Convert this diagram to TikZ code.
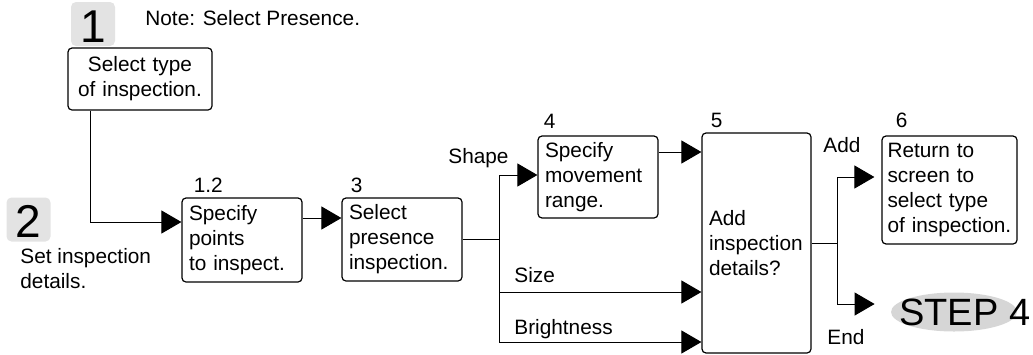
\documentclass[tikz,border=0pt]{standalone}
\usepackage{fontspec}
\setmainfont{Liberation Sans}
\usepackage{tikz}
\usetikzlibrary{shapes.geometric,arrows.meta,positioning,calc}
\newcommand{\bodyfont}{\fontsize{10.4}{12.5}\selectfont\hyphenpenalty=10000\exhyphenpenalty=10000}

\begin{document}
\begin{tikzpicture}[x=0.5pt,y=-0.5pt,
  box/.style={draw,line width=0.6pt,rounded corners=2pt,align=left,inner xsep=3.5pt,inner ysep=0pt,font=\bodyfont},
  lbl/.style={anchor=base west,inner sep=0pt,font=\bodyfont},
  numsq/.style={fill=gray!22,rounded corners=2.5pt,inner sep=0pt,minimum width=22pt,minimum height=22pt,text height=18pt,text depth=0pt,font=\fontsize{23}{23}\selectfont},
  arr/.style={-{Triangle[length=10pt,width=11.5pt]},line width=0.5pt},
  conn/.style={line width=0.5pt}]
\useasboundingbox (0,0) rectangle (1033,354);

% steps
\node[numsq] (sq1) at (93,24) {1};
\node[numsq] (sq2) at (28.5,219.5) {2};
\node[lbl] (note) at (145,25) {Note: Select Presence.};
\node[anchor=north west,inner sep=0pt,align=left,font=\bodyfont] (setd) at (20,248) {Set inspection\\details.};

% boxes
\node[box,align=center,text width=65pt,minimum height=31pt] (sel) at (140,79) {Select type\\of inspection.};
\node[box,text width=53pt,minimum height=42pt] (pts) at (242,240) {Specify\\points\\to inspect.};
\node[box,text width=53pt,minimum height=41.5pt] (pres) at (402,239.5) {Select\\presence\\inspection.};
\node[box,text width=53pt,minimum height=41pt] (mov) at (598,177) {Specify\\movement\\range.};
\node[box,text width=47.5pt,minimum height=110pt] (add) at (756.5,243) {Add\\inspection\\details?};
\node[box,inner xsep=2.75pt,text width=62pt,minimum height=54pt] (ret) at (949.5,190) {Return to\\screen to\\select type\\of inspection.};
\node[ellipse,fill=gray!32,minimum width=63pt,minimum height=19.5pt] (stepn) at (954,312) {};
\node[anchor=base west,inner sep=0pt,font=\fontsize{19}{19}\selectfont] (stxt) at (899,325) {STEP 4};

% numbers
\node[lbl] (n12) at ([shift={(6pt,2.5pt)}]pts.north west) {1.2};
\node[lbl] (n3) at ([shift={(4.5pt,2.5pt)}]pres.north west) {3};
\node[lbl] (n4) at ([shift={(3pt,3.5pt)}]mov.north west) {4};
\node[lbl] (n5) at ([shift={(4.5pt,2.5pt)}]add.north west) {5};
\node[lbl] (n6) at ([shift={(7pt,4pt)}]ret.north west) {6};

% branch labels
\node[lbl] (shp) at (448,163) {Shape};
\node[lbl] (siz) at (514,282) {Size};
\node[lbl] (brt) at (514,334) {Brightness};
\node[lbl] (addl) at (823,152) {Add};
\node[lbl] (endl) at (827,344) {End};

% connectors
\coordinate (br1) at ([xshift=18.5pt]pres.east);
\coordinate (br2) at ([xshift=13pt]add.east);
\draw[arr] ([xshift=11.5pt]sel.south west) |- ([yshift=9pt]pts.west);
\draw[arr] ([yshift=11pt]pts.east) -- ([yshift=11pt]pts.east -| pres.west);
\draw[conn] (pres.east) -- (br1);
\draw[arr] (br1) |- ([yshift=1pt]mov.west);
\draw[arr] (br1) |- ([yshift=-24.5pt]add.west);
\draw[arr] (br1) |- ([yshift=-49.5pt]add.west);
\draw[arr] ([yshift=12.5pt]mov.east) -- ([yshift=12.5pt]mov.east -| add.west);
\draw[conn] (add.east) -- (br2);
\draw[arr,shorten >=3.5pt] (br2) |- ([yshift=6.5pt]ret.west);
\draw[arr,shorten >=8pt] (br2) |- ([yshift=4pt]stepn.west);
\end{tikzpicture}
\end{document}
